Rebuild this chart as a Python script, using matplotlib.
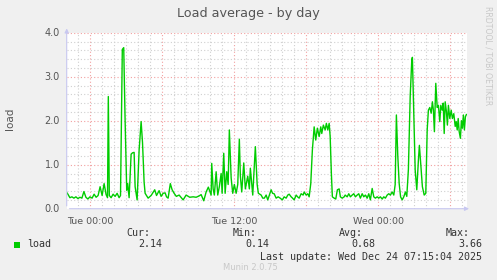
import matplotlib.pyplot as plt
from matplotlib.ticker import FixedLocator, MultipleLocator

# minutes after Tue 00:00 and 5-min load average
minutes = [-118, -112, -102, -92, -82, -72, -62, -52, -42, -32, -22, -12, -2, 9, 19, 29, 39, 49, 59, 69,
           79, 86, 90, 95, 104, 114, 124, 134, 144, 151, 160, 167, 174, 182, 187, 194, 204, 211, 219, 224,
           234, 244, 254, 261, 269, 274, 289, 304, 322, 331, 344, 354, 364, 374, 381, 389, 400, 409, 419, 430,
           444, 464, 479, 497, 514, 529, 544, 554, 567, 579, 590, 604, 607, 614, 620, 629, 637, 645, 654, 659,
           667, 674, 682, 689, 695, 704, 712, 720, 729, 737, 745, 750, 757, 767, 775, 787, 795, 800, 812, 825,
           834, 840, 854, 862, 870, 879, 887, 895, 904, 911, 919, 929, 939, 949, 960, 969, 979, 987, 994, 1004,
           1011, 1019, 1029, 1036, 1044, 1054, 1064, 1069, 1079, 1087, 1094, 1102, 1110, 1119, 1127, 1135, 1144, 1152, 1157, 1165,
           1174, 1180, 1187, 1194, 1199, 1205, 1210, 1219, 1227, 1235, 1244, 1250, 1259, 1269, 1274, 1284, 1292, 1300, 1309, 1317,
           1325, 1334, 1342, 1350, 1359, 1367, 1375, 1384, 1392, 1400, 1409, 1417, 1425, 1434, 1442, 1450, 1459, 1467, 1475, 1484,
           1492, 1500, 1509, 1517, 1524, 1530, 1537, 1544, 1551, 1559, 1567, 1575, 1582, 1590, 1599, 1607, 1610, 1615, 1624, 1632,
           1640, 1645, 1652, 1660, 1669, 1677, 1684, 1690, 1697, 1704, 1710, 1715, 1720, 1727, 1734, 1740, 1747, 1752, 1759, 1764,
           1769, 1774, 1780, 1785, 1790, 1797, 1804, 1810, 1817, 1824, 1829, 1834, 1839, 1844, 1850, 1855, 1860, 1865, 1870, 1875,
           1880]
load = [0.37, 0.33, 0.25, 0.27, 0.24, 0.27, 0.23, 0.26, 0.24, 0.39, 0.26, 0.22, 0.27, 0.24, 0.33, 0.26, 0.30, 0.50, 0.30, 0.57,
        0.32, 0.25, 2.55, 0.30, 0.25, 0.33, 0.28, 0.35, 0.25, 0.30, 3.62, 3.66, 2.00, 0.42, 0.57, 0.25, 1.24, 1.27, 1.28, 0.50,
        0.20, 1.33, 1.98, 1.50, 0.60, 0.35, 0.24, 0.30, 0.43, 0.30, 0.41, 0.28, 0.35, 0.36, 0.27, 0.24, 0.57, 0.43, 0.35, 0.28,
        0.31, 0.20, 0.31, 0.26, 0.27, 0.26, 0.29, 0.32, 0.18, 0.38, 0.49, 0.31, 1.03, 0.45, 0.31, 0.84, 0.31, 0.50, 0.80, 0.35,
        1.26, 0.35, 0.84, 0.55, 1.79, 0.70, 0.35, 0.55, 0.35, 0.55, 1.58, 0.75, 0.38, 1.04, 0.45, 0.74, 0.45, 0.92, 0.31, 1.41,
        0.55, 0.35, 0.31, 0.24, 0.24, 0.31, 0.20, 0.31, 0.43, 0.35, 0.34, 0.24, 0.27, 0.24, 0.20, 0.27, 0.24, 0.31, 0.33, 0.27,
        0.24, 0.20, 0.31, 0.27, 0.24, 0.34, 0.31, 0.38, 0.31, 0.34, 0.27, 0.57, 1.33, 1.86, 1.56, 1.83, 1.64, 1.86, 1.71, 1.90,
        1.79, 1.94, 1.79, 1.94, 1.64, 0.80, 0.27, 0.24, 0.22, 0.43, 0.45, 0.27, 0.24, 0.27, 0.31, 0.27, 0.34, 0.27, 0.31, 0.34,
        0.27, 0.31, 0.34, 0.24, 0.34, 0.27, 0.31, 0.24, 0.34, 0.20, 0.46, 0.27, 0.24, 0.27, 0.24, 0.27, 0.22, 0.27, 0.24, 0.31,
        0.34, 0.31, 0.38, 0.31, 0.55, 2.13, 1.20, 0.57, 0.27, 0.20, 0.27, 0.38, 0.28, 0.89, 2.55, 3.38, 3.44, 2.55, 0.88, 0.43,
        1.10, 1.44, 1.00, 0.50, 0.31, 0.35, 1.79, 2.24, 2.30, 2.17, 2.43, 2.24, 1.75, 2.85, 2.30, 2.35, 1.98, 2.35, 2.24, 2.40,
        1.71, 2.43, 2.21, 1.90, 2.35, 2.05, 2.24, 2.05, 2.16, 1.87, 1.98, 1.79, 2.05, 1.75, 1.60, 2.00, 1.83, 2.13, 1.79, 2.09,
        2.14]

tick_pos = [0, 720, 1440]
tick_labels = ['Tue 00:00', 'Tue 12:00', 'Wed 00:00']
stat_names = ['Cur:', 'Min:', 'Avg:', 'Max:']
stat_values = ['2.14', '0.14', '0.68', '3.66']
stat_right = [150, 257, 363, 470]  # right edges in pixels

W, H = 497, 280
fig = plt.figure(figsize=(W / 100, H / 100), dpi=100, facecolor='#F0F0F0')
ax = fig.add_axes([66.7 / W, 1 - 208.7 / H, 400.3 / W, 176 / H], facecolor='white')

ax.plot(minutes, load, color='#00CC00', lw=1.0)
ax.set_xlim(-118, 1883)
ax.set_ylim(0, 4)

ax.xaxis.set_major_locator(FixedLocator([-360, 0, 360, 720, 1080, 1440, 1800]))
ax.xaxis.set_minor_locator(MultipleLocator(60))
ax.yaxis.set_major_locator(MultipleLocator(1))
ax.yaxis.set_minor_locator(MultipleLocator(0.2))
ax.grid(which='minor', color='#D0D0D0', ls=(0, (1, 2)), lw=0.8)
ax.grid(which='major', color='#F2A0A0', ls=(0, (1, 2)), lw=0.8)
ax.set_axisbelow(True)
ax.set_xticklabels([])
ax.set_yticklabels([])
ax.tick_params(which='both', length=0)

for s in ax.spines.values():
    s.set_visible(False)

# axis lines with arrows
axis_col = '#C8C8F0'
ax.annotate('', xy=(0, 1.04), xytext=(0, 0), xycoords='axes fraction',
            arrowprops=dict(arrowstyle='-|>', color=axis_col, lw=0.8, mutation_scale=6), annotation_clip=False)
ax.annotate('', xy=(1.012, 0), xytext=(0, 0), xycoords='axes fraction',
            arrowprops=dict(arrowstyle='-|>', color=axis_col, lw=0.8, mutation_scale=6), annotation_clip=False)

txt = '#555555'
for v in range(5):
    ax.text(-0.017, v, f'{v:.1f}', transform=ax.get_yaxis_transform(), ha='right', va='center',
            fontsize=7, color=txt)
for p, lab in zip(tick_pos, tick_labels):
    ax.text(p, -0.05, lab, transform=ax.get_xaxis_transform(), ha='center', va='top',
            fontsize=6.8, color=txt)

fig.text(248 / W, 1 - 14 / H, 'Load average - by day', ha='center', va='center', fontsize=9.2, color='#555555')
fig.text(10 / W, 1 - 119 / H, 'load', rotation=90, ha='center', va='center', fontsize=7.5, color='#555555')
fig.text(488 / W, 1 - 56 / H, 'RRDTOOL / TOBI OETIKER', rotation=-90, ha='center', va='center',
         fontsize=5.6, color='#C8C8C8')

# legend block
mono = 'DejaVu Sans Mono'
fig.patches.append(plt.Rectangle((13.5 / W, 1 - 247.5 / H), 6 / W, 6 / H, transform=fig.transFigure,
                                 facecolor='#00CC00', edgecolor='none'))
fig.text(27 / W, 1 - 244.3 / H, 'load', family=mono, fontsize=7.2, color='#333333', va='center')
for name, val, r in zip(stat_names, stat_values, stat_right):
    fig.text(r / W, 1 - 232.7 / H, name, family=mono, fontsize=7.2, color='#333333', ha='right', va='center')
    fig.text((r + 12.5) / W, 1 - 244.3 / H, val, family=mono, fontsize=7.2, color='#333333', ha='right', va='center')
fig.text(482 / W, 1 - 256.7 / H, 'Last update: Wed Dec 24 07:15:04 2025', family=mono, fontsize=7.2,
         color='#333333', ha='right', va='center')
fig.text(223 / W, 1 - 268 / H, 'Munin 2.0.75', fontsize=6, color='#C8C8C8', va='center')

fig.savefig('out.png', dpi=100, facecolor=fig.get_facecolor())
